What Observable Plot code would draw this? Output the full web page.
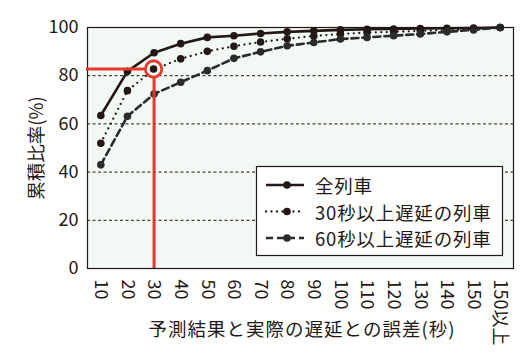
<!DOCTYPE html>
<html><head><meta charset="utf-8">
<script src="https://cdn.jsdelivr.net/npm/d3@7"></script>
<script src="https://cdn.jsdelivr.net/npm/@observablehq/plot@0.6"></script>
<style>html,body{margin:0;padding:0;background:#fff} svg{display:block}</style>
</head><body><div id="chart"></div>
<script>
const categories = ["10","20","30","40","50","60","70","80","90","100","110","120","130","140","150","150以上"];
const allTrains = [63.5, 81.8, 89.5, 93.3, 95.9, 96.6, 97.5, 98.2, 98.6, 99.0, 99.3, 99.4, 99.6, 99.7, 99.8, 100];
const delayed30 = [52.0, 73.8, 82.6, 87.0, 90.1, 92.2, 94.0, 95.3, 96.5, 97.3, 97.9, 98.2, 98.6, 99.0, 99.4, 100];
const delayed60 = [43.0, 63.2, 72.4, 77.3, 82.1, 87.2, 89.9, 92.4, 93.8, 95.2, 95.9, 96.6, 97.3, 98.2, 99.0, 100];
const seriesNames = ["全列車", "30秒以上遅延の列車", "60秒以上遅延の列車"];
const yTicks = [0, 20, 40, 60, 80, 100];
const gridValues = [20, 40, 60, 80];
const yLabel = "累積比率(%)";
const xLabel = "予測結果と実際の遅延との誤差(秒)";
const highlight = {category: "30", value: delayed30[2]};

const ink = "#231815";
const red = "#e8382a";
const bg = "#f2f8f4";
const font = '"Noto Sans CJK JP", "Noto Sans", sans-serif';

const seriesValues = [allTrains, delayed30, delayed60];
const styles = [
  {stroke: ink, strokeWidth: 2.6},
  {stroke: ink, strokeWidth: 2.3, strokeDasharray: "0 5.5", strokeLinecap: "round"},
  {stroke: "#2b2b2b", strokeWidth: 2.6, strokeDasharray: "7 4"}
];
const tables = seriesValues.map((vals, s) => categories.map((c, i) => ({category: c, value: vals[i], series: seriesNames[s]})));

const marks = [
  Plot.frame({fill: bg, stroke: "none"}),
  Plot.ruleY(gridValues, {stroke: ink, strokeWidth: 1, strokeDasharray: "3 2.5"}),
  Plot.axisY({ticks: yTicks, tickSize: 0, tickPadding: 9, fontSize: 18, label: null}),
  Plot.axisX({tickSize: 0, tickRotate: 90, tickPadding: 11, fontSize: 18, label: null})
];
tables.forEach((t, s) => {
  marks.push(Plot.line(t, {x: "category", y: "value", ...styles[s]}));
});
tables.forEach((t, s) => {
  marks.push(Plot.dot(t, {x: "category", y: "value", r: 3.8, fill: styles[s].stroke, stroke: "none"}));
});
marks.push(
  Plot.ruleX([highlight], {x: "category", y1: 0, y2: "value", stroke: red, strokeWidth: 3}),
  Plot.frame({stroke: ink, strokeWidth: 1.2})
);

const chart = Plot.plot({
  width: 529, height: 356,
  marginLeft: 87, marginRight: 16, marginTop: 27, marginBottom: 88,
  style: {fontFamily: font, fontSize: "18px", color: ink, background: "white", overflow: "visible"},
  x: {type: "point", domain: categories, padding: 0.5, round: false, label: null},
  y: {domain: [0, 100], label: null},
  marks
});

const svg = d3.select(chart);
const xs = chart.scale("x"), ys = chart.scale("y");
const hx = xs.apply(highlight.category), hy = ys.apply(highlight.value);
const hl = svg.append("g");
hl.append("line").attr("x1", xs.range[0] - 1).attr("x2", hx).attr("y1", hy).attr("y2", hy)
  .attr("stroke", red).attr("stroke-width", 3);
hl.append("circle").attr("cx", hx).attr("cy", hy).attr("r", 8.2)
  .attr("fill", bg).attr("stroke", red).attr("stroke-width", 2.8);
hl.append("circle").attr("cx", hx).attr("cy", hy).attr("r", 3.8).attr("fill", ink);

svg.append("text")
  .attr("transform", "translate(35,148) rotate(-90)")
  .attr("text-anchor", "middle").attr("dominant-baseline", "central")
  .attr("fill", ink).style("font-size", "18.5px").style("font-family", font)
  .text(yLabel);
svg.append("text")
  .attr("x", 302).attr("y", 327.5)
  .attr("text-anchor", "middle").attr("dominant-baseline", "central")
  .attr("fill", ink).style("font-size", "18.5px").style("font-family", font)
  .style("letter-spacing", "1px")
  .text(xLabel);

// legend
const lg = svg.append("g");
lg.append("rect").attr("x", 256.5).attr("y", 166.5).attr("width", 246).attr("height", 89)
  .attr("fill", "white").attr("stroke", ink).attr("stroke-width", 1.2);
const rowY = [185, 211.5, 238];
seriesNames.forEach((name, s) => {
  const st = styles[s];
  lg.append("line").attr("x1", 266).attr("x2", 304).attr("y1", rowY[s]).attr("y2", rowY[s])
    .attr("stroke", st.stroke).attr("stroke-width", st.strokeWidth)
    .attr("stroke-dasharray", st.strokeDasharray || null)
    .attr("stroke-linecap", st.strokeLinecap || null);
  lg.append("circle").attr("cx", 287).attr("cy", rowY[s]).attr("r", 3.8).attr("fill", st.stroke);
  lg.append("text").attr("x", 315).attr("y", rowY[s]).attr("dominant-baseline", "central")
    .attr("text-anchor", "start")
    .attr("fill", ink).style("font-size", "18.5px").style("font-family", font)
    .style("letter-spacing", "0.8px")
    .text(name);
});

document.getElementById("chart").appendChild(chart);
</script>
</body></html>
